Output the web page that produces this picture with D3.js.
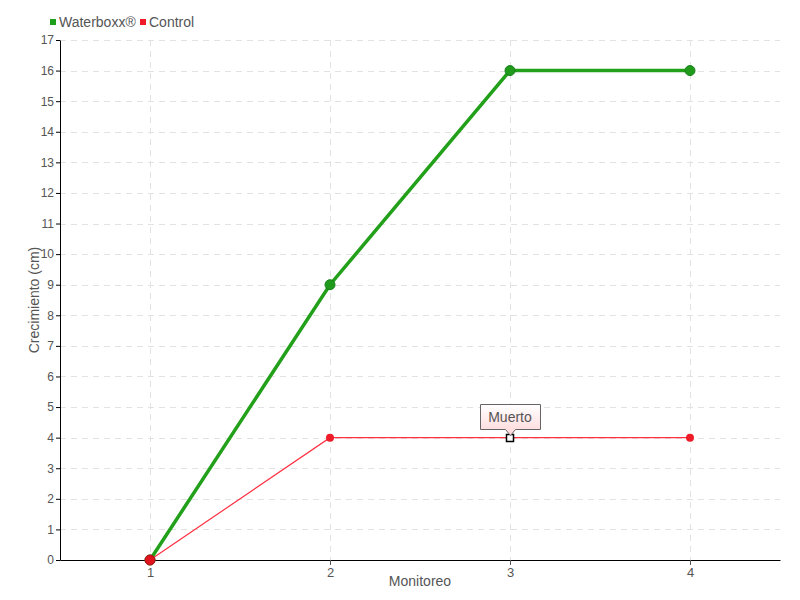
<!DOCTYPE html>
<html>
<head>
<meta charset="utf-8">
<script src="https://cdn.jsdelivr.net/npm/d3@7"></script>
<style>
    body { margin: 0; background: #fff; }
    svg { display: block; font-family: "Liberation Sans", Arial, sans-serif; }
</style>
</head>
<body>
<div id="chart"></div>
<script>
const monitoreo = [1, 2, 3, 4];
const waterboxx = [0, 9, 16, 16];
const control = [0, 4, 4, 4];
const controlNotes = [null, null, 'Muerto', null];
const yTicks = d3.range(0, 18);

const width = 800;
const height = 600;
const marginTop = 40;
const marginRight = 20;
const marginBottom = 40;
const marginLeft = 60;

const x = d3.scaleLinear()
    .domain([0.5, 4.5])
    .range([marginLeft, width - marginRight]);

const y = d3.scaleLinear()
    .domain([0, 17])
    .range([height - marginBottom, marginTop]);

const svg = d3.select('#chart').append('svg')
    .attr('width', width)
    .attr('height', height)
    .attr('viewBox', [0, 0, width, height]);

const defs = svg.append('defs');
const grad = defs.append('linearGradient')
    .attr('id', 'tipGrad')
    .attr('x1', 0).attr('y1', 0).attr('x2', 0).attr('y2', 1);
grad.append('stop').attr('offset', '0%').attr('stop-color', '#ffffff');
grad.append('stop').attr('offset', '100%').attr('stop-color', '#ffd6d8');

// grid
svg.append('g')
    .attr('stroke', '#e2e2e2')
    .attr('stroke-dasharray', '6,5')
    .selectAll()
    .data(yTicks.filter(d => d > 0))
    .join('line')
    .attr('x1', marginLeft)
    .attr('x2', width - marginRight)
    .attr('y1', d => Math.round(y(d)) + 0.5)
    .attr('y2', d => Math.round(y(d)) + 0.5);

svg.append('g')
    .attr('stroke', '#e2e2e2')
    .attr('stroke-dasharray', '6,5')
    .selectAll()
    .data(monitoreo)
    .join('line')
    .attr('x1', d => Math.round(x(d)) + 0.5)
    .attr('x2', d => Math.round(x(d)) + 0.5)
    .attr('y1', marginTop)
    .attr('y2', height - marginBottom);

// axes
svg.append('g')
    .attr('transform', `translate(0,${height - marginBottom})`)
    .call(d3.axisBottom(x).tickValues(monitoreo).tickFormat(d3.format('d')).tickSize(5).tickPadding(3).tickSizeOuter(0))
    .call(g => g.select('.domain').attr('stroke', '#000'))
    .call(g => g.selectAll('.tick line').attr('stroke', '#555'))
    .call(g => g.selectAll('.tick text').attr('fill', '#555').style('font-size', '13px'));

svg.append('g')
    .attr('transform', `translate(${marginLeft},0)`)
    .call(d3.axisLeft(y).tickValues(yTicks).tickFormat(d3.format('d')).tickSize(4).tickPadding(2).tickSizeOuter(0))
    .call(g => g.select('.domain').attr('stroke', '#000'))
    .call(g => g.selectAll('.tick line').attr('stroke', '#000'))
    .call(g => g.selectAll('.tick text').attr('fill', '#555').style('font-size', '12px'));

svg.append('text')
    .attr('x', (marginLeft + width - marginRight) / 2)
    .attr('y', height - 14)
    .attr('text-anchor', 'middle')
    .attr('fill', '#555')
    .style('font-size', '14px')
    .text('Monitoreo');

svg.append('text')
    .attr('transform', `translate(39,${(marginTop + height - marginBottom) / 2}) rotate(-90)`)
    .attr('text-anchor', 'middle')
    .attr('fill', '#555')
    .style('font-size', '14px')
    .text('Crecimiento (cm)');

// lines
const line = d3.line()
    .x((d, i) => x(monitoreo[i]))
    .y(d => y(d));

svg.append('path')
    .datum(control)
    .attr('fill', 'none')
    .attr('stroke', '#ff3040')
    .attr('stroke-width', 1.2)
    .attr('d', line);

svg.append('path')
    .datum(waterboxx)
    .attr('fill', 'none')
    .attr('stroke', '#22a01a')
    .attr('stroke-width', 3.5)
    .attr('d', line);

svg.append('g')
    .selectAll()
    .data(waterboxx)
    .join('circle')
    .attr('cx', (d, i) => x(monitoreo[i]))
    .attr('cy', d => y(d))
    .attr('r', 5)
    .attr('fill', '#1f9a1a')
    .attr('stroke', '#17801a')
    .attr('stroke-width', 1);

svg.append('g')
    .selectAll()
    .data(control)
    .join('circle')
    .attr('cx', (d, i) => x(monitoreo[i]))
    .attr('cy', d => y(d))
    .attr('r', (d, i) => i === 0 ? 5 : 4)
    .attr('fill', (d, i) => i === 0 ? '#e0141e' : '#ee1c28')
    .attr('stroke', (d, i) => i === 0 ? '#b81018' : 'none');

// annotation
controlNotes.forEach((note, i) => {
    if (!note) return;
    const cx = x(monitoreo[i]);
    const cy = y(control[i]);
    svg.append('rect')
        .attr('x', Math.round(cx) - 3.5)
        .attr('y', Math.round(cy) - 3.5)
        .attr('width', 7)
        .attr('height', 7)
        .attr('fill', '#fff')
        .attr('stroke', '#000')
        .attr('stroke-width', 1.5);
    const bw = 60, bh = 25;
    const bx = Math.round(cx - bw / 2) + 0.5;
    const by = Math.round(cy) - 34 + 0.5;
    svg.append('path')
        .attr('d', `M${bx},${by}h${bw}v${bh}h${-bw / 2 + 5}l-5,6l-5,-6h${-bw / 2 + 5}z`)
        .attr('fill', 'url(#tipGrad)')
        .attr('stroke', '#666')
        .attr('stroke-width', 1);
    svg.append('text')
        .attr('x', cx)
        .attr('y', by + 17)
        .attr('text-anchor', 'middle')
        .attr('fill', '#555')
        .style('font-size', '14px')
        .text(note);
});

// legend
const legendData = [
    { name: 'Waterboxx®', color: '#1fa01a', x: 50 },
    { name: 'Control', color: '#ee1c28', x: 140 }
];

const legend = svg.append('g')
    .selectAll()
    .data(legendData)
    .join('g')
    .attr('transform', d => `translate(${d.x},0)`);

legend.append('rect')
    .attr('x', 0)
    .attr('y', 19)
    .attr('width', 6)
    .attr('height', 6)
    .attr('fill', d => d.color);

legend.append('text')
    .attr('x', 9)
    .attr('y', 27)
    .attr('fill', '#555')
    .style('font-size', '14px')
    .text(d => d.name);
</script>
</body>
</html>
